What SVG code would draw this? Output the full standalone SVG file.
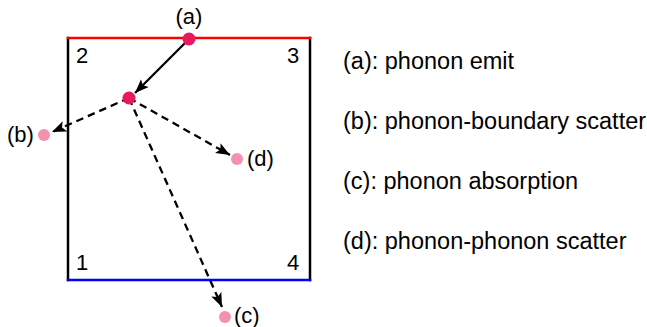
<svg xmlns="http://www.w3.org/2000/svg" width="647" height="327" viewBox="0 0 647 327">
<defs>
<style>
text { font-family: "Liberation Sans", Arial, sans-serif; font-size: 22px; fill: #000; }
.legend text { font-size: 23.5px; }
.side { stroke-width: 2.5; fill: none; stroke-linecap: square; }
.conn { stroke: #000; stroke-width: 2.3; fill: none; }
.dash { stroke-dasharray: 7.5 5; }
.hot { fill: #e8195c; }
.pink { fill: #f490b0; }
</style>
<marker id="ah" markerUnits="userSpaceOnUse" markerWidth="15" markerHeight="12" refX="14" refY="6" orient="auto">
<path d="M0,0.5 L14,6 L0,11.5 L3,6 z" fill="#000"/>
</marker>
</defs>
<rect width="647" height="327" fill="#fff"/>
<g id="box">
<line class="side" x1="68" y1="38" x2="68" y2="280" stroke="#000"/>
<line class="side" x1="310" y1="38" x2="310" y2="280" stroke="#000"/>
<line class="side" x1="68" y1="38" x2="310" y2="38" stroke="#ff0000"/>
<line class="side" x1="68" y1="280" x2="310" y2="280" stroke="#0000ff"/>
<text x="76" y="63">2</text>
<text x="287" y="63">3</text>
<text x="76" y="270">1</text>
<text x="287" y="270">4</text>
</g>
<g id="connectors">
<line class="conn" x1="189" y1="39" x2="135" y2="93" marker-end="url(#ah)"/>
<line class="conn dash" x1="129" y1="98" x2="52" y2="132" marker-end="url(#ah)"/>
<line class="conn dash" x1="129" y1="98" x2="230" y2="155" marker-end="url(#ah)"/>
<line class="conn dash" x1="129" y1="98" x2="222" y2="307" marker-end="url(#ah)"/>
</g>
<g id="node-a">
<circle class="hot" cx="189" cy="39" r="6.5"/>
<text x="189" y="24" text-anchor="middle">(a)</text>
</g>
<g id="node-mid">
<circle class="hot" cx="129" cy="98" r="6.5"/>
</g>
<g id="node-b">
<circle class="pink" cx="44" cy="135" r="6"/>
<text x="7" y="142">(b)</text>
</g>
<g id="node-d">
<circle class="pink" cx="237" cy="159" r="6"/>
<text x="247" y="166">(d)</text>
</g>
<g id="node-c">
<circle class="pink" cx="225" cy="317" r="6"/>
<text x="234" y="323">(c)</text>
</g>
<g id="legend" class="legend">
<text x="343" y="69">(a): phonon emit</text>
<text x="343" y="129">(b): phonon-boundary scatter</text>
<text x="343" y="189">(c): phonon absorption</text>
<text x="343" y="249">(d): phonon-phonon scatter</text>
</g>
</svg>
